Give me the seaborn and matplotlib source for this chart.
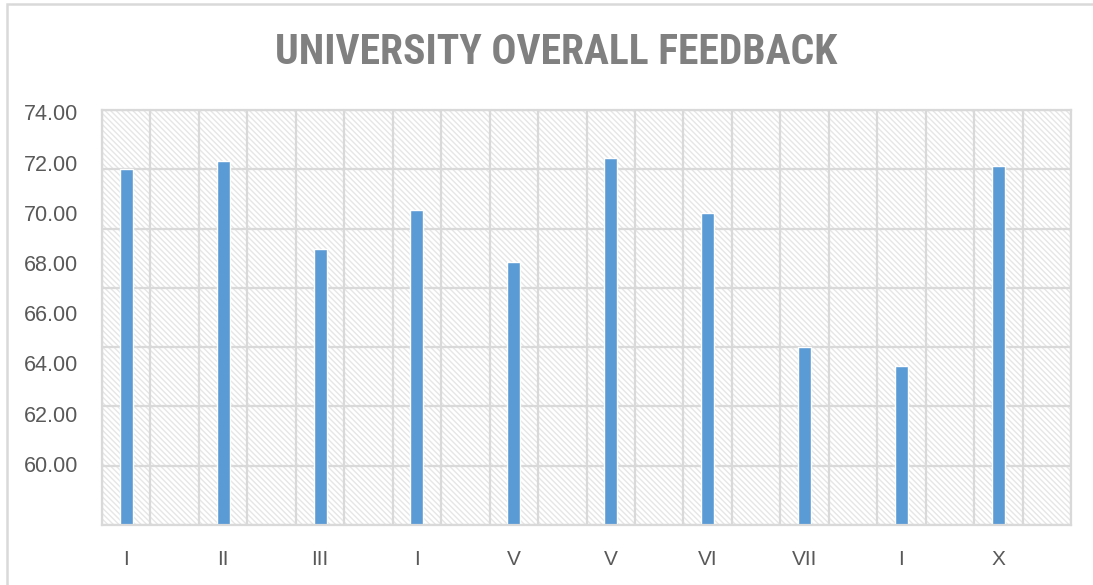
import matplotlib.pyplot as plt
import matplotlib.patches as mpatches
from matplotlib import font_manager
from matplotlib.ticker import MultipleLocator
import seaborn as sns
import numpy as np
import pandas as pd

# feedback score per semester
semestres = ["I", "II", "III", "I", "V", "V", "VI", "VII", "I", "X"]
feedback = [72.02, 72.28, 69.32, 70.63, 68.86, 72.37, 70.53, 65.99, 65.37, 72.11]
y_ticks = [60, 62, 64, 66, 68, 70, 72, 74]

sns.set_theme(style="white")
plt.rcParams['font.family'] = ['Liberation Sans', 'DejaVu Sans']
plt.rcParams['hatch.linewidth'] = 1.0

cinza = '#d9d9d9'
texto = '#595959'

# fonte estreita para o titulo, se houver
fonte_titulo, tam_titulo = 'Liberation Sans', 25
for nome in ['Liberation Sans Narrow', 'Roboto Condensed', 'DejaVu Sans Condensed']:
    try:
        font_manager.findfont(font_manager.FontProperties(family=nome), fallback_to_default=False)
        fonte_titulo, tam_titulo = nome, 30
        break
    except ValueError:
        pass

df = pd.DataFrame({'pos': range(len(feedback)), 'feedback': feedback})

fig = plt.figure(figsize=(10.93, 5.85), dpi=100)
ax = fig.add_axes([102/1093, 60/585, 969/1093, 415/585])

# fundo hachurado
fundo = mpatches.Rectangle((0, 0), 1, 1, transform=ax.transAxes, facecolor='white',
                           edgecolor='#e6e6e6', hatch='\\\\\\\\\\\\', lw=0, zorder=0.1)
ax.add_patch(fundo)

sns.barplot(data=df, x='pos', y='feedback', color='#5b9bd5', saturation=1,
            width=0.134, ax=ax, zorder=2)

ax.set_ylim(60, 74)
ax.set_xlim(-0.25, 9.75)
ax.yaxis.set_major_locator(MultipleLocator(2))
ax.xaxis.set_minor_locator(MultipleLocator(0.5, offset=0.25))
ax.set_xticks(range(len(semestres)))
ax.set_xticklabels(semestres)
ax.grid(True, axis='y', which='major', color=cinza, lw=1.6, zorder=0.5)
ax.grid(True, axis='x', which='minor', color=cinza, lw=1.6, zorder=0.5)
ax.grid(False, axis='x', which='major')
ax.set_axisbelow(True)
ax.tick_params(axis='x', which='both', length=0, pad=18, labelsize=15, labelcolor=texto)
ax.tick_params(axis='y', length=0, labelleft=False)
ax.set_xlabel('')
ax.set_ylabel('')
for s in ax.spines.values():
    s.set_color(cinza)
    s.set_linewidth(1.6)

# rotulos do eixo y (na imagem original ficam deslocados em relacao a grade)
ax2 = ax.twinx()
ax2.set_ylim(57.57, 74.09)
ax2.set_yticks(y_ticks)
ax2.set_yticklabels(['%.2f' % v for v in y_ticks])
ax2.yaxis.tick_left()
ax2.tick_params(axis='y', length=0, pad=17, labelsize=15.5, labelcolor=texto)
for s in ax2.spines.values():
    s.set_visible(False)
ax2.grid(False)

fig.text(0.509, 1 - 53/585, 'UNIVERSITY OVERALL FEEDBACK', ha='center', va='center',
         fontsize=tam_titulo, fontweight='bold', color='#808080',
         family=[fonte_titulo, 'DejaVu Sans'])

# moldura do grafico
moldura = mpatches.Rectangle((7/1093, -0.1), 1.2, 1.1 - 4/585, transform=fig.transFigure,
                             fill=False, edgecolor=cinza, lw=1.8)
fig.patches.append(moldura)

fig.savefig('out.png', dpi=100)
plt.close()
